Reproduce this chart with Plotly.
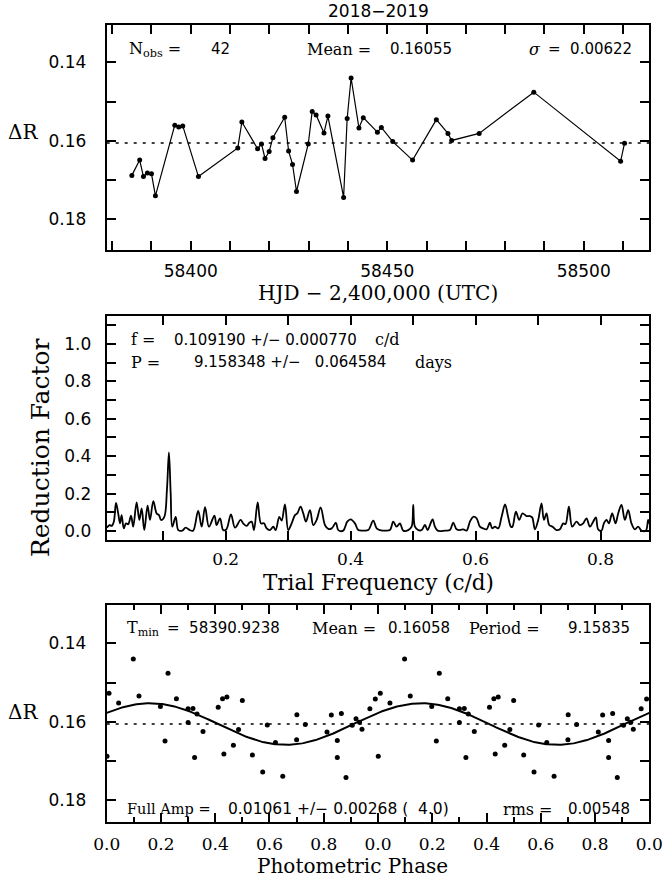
import numpy as np
import plotly.graph_objects as go

W, H = 664, 884

SERIF = "DejaVu Serif"
SANS = "DejaVu Sans"

# ---- top panel: light curve ----
hjd = [58385.0, 58387.0, 58387.95, 58388.96, 58390.0, 58391.0, 58395.93, 58396.94,
       58397.96, 58401.95, 58411.97, 58413.0, 58417.0, 58418.0, 58418.9, 58419.95,
       58420.9, 58423.9, 58424.9, 58425.9, 58426.9, 58429.9, 58430.9, 58431.9,
       58433.9, 58434.9, 58438.9, 58439.8, 58440.8, 58442.8, 58443.9, 58447.5,
       58448.5, 58451.4, 58456.45, 58462.5, 58465.45, 58466.4, 58473.4, 58487.3,
       58509.4, 58510.4]
delta_r = [0.1688, 0.1649, 0.1691, 0.1682, 0.1684, 0.1740, 0.1560, 0.1565,
           0.1562, 0.1691, 0.1618, 0.1552, 0.1620, 0.1608, 0.1645, 0.1627,
           0.1592, 0.1540, 0.1626, 0.1660, 0.1729, 0.1608, 0.1525, 0.1534,
           0.1580, 0.1537, 0.1744, 0.1543, 0.1440, 0.1567, 0.1541, 0.1578,
           0.1566, 0.1602, 0.1649, 0.1546, 0.1581, 0.1599, 0.1581, 0.1476,
           0.1652, 0.1606]
lc_mean = 0.16055

# ---- middle panel: periodogram ----
freq = [0.0100, 0.0112, 0.0143, 0.0175, 0.0210, 0.0245, 0.0280, 0.0310, 0.0335, 0.0370,
        0.0405, 0.0440, 0.0485, 0.0520, 0.0575, 0.0618, 0.0655, 0.0698, 0.0750, 0.0789,
        0.0842, 0.0895, 0.0933, 0.0965, 0.1018, 0.1060, 0.1092, 0.1120, 0.1146, 0.1200,
        0.1242, 0.1306, 0.1360, 0.1430, 0.1480, 0.1560, 0.1616, 0.1670, 0.1733, 0.1820,
        0.1855, 0.1910, 0.1960, 0.2010, 0.2085, 0.2150, 0.2240, 0.2280, 0.2336, 0.2378,
        0.2416, 0.2453, 0.2512, 0.2565, 0.2613, 0.2656, 0.2709, 0.2762, 0.2800, 0.2858,
        0.2896, 0.2949, 0.3002, 0.3056, 0.3109, 0.3146, 0.3199, 0.3242, 0.3285, 0.3349,
        0.3402, 0.3456, 0.3520, 0.3589, 0.3642, 0.3696, 0.3765, 0.3802, 0.3882, 0.3946,
        0.4000, 0.4069, 0.4122, 0.4202, 0.4282, 0.4362, 0.4416, 0.4469, 0.4549, 0.4629,
        0.4682, 0.4736, 0.4789, 0.4842, 0.4922, 0.4976, 0.5002, 0.5029, 0.5082, 0.5136,
        0.5189, 0.5232, 0.5269, 0.5312, 0.5349, 0.5392, 0.5509, 0.5589, 0.5642, 0.5696,
        0.5749, 0.5802, 0.5856, 0.5909, 0.5962, 0.6016, 0.6069, 0.6122, 0.6176, 0.6229,
        0.6266, 0.6309, 0.6362, 0.6416, 0.6472, 0.6522, 0.6565, 0.6590, 0.6645, 0.6698,
        0.6751, 0.6815, 0.6869, 0.6906, 0.6949, 0.7002, 0.7055, 0.7093, 0.7135, 0.7178,
        0.7231, 0.7295, 0.7349, 0.7402, 0.7439, 0.7493, 0.7546, 0.7615, 0.7669, 0.7722,
        0.7775, 0.7829, 0.7882, 0.7925, 0.7962, 0.8015, 0.8053, 0.8095, 0.8133, 0.8186,
        0.8239, 0.8282, 0.8335, 0.8389, 0.8442, 0.8495, 0.8549, 0.8602, 0.8655, 0.8725,
        0.8762, 0.8780]
reduction = [0.018, 0.023, 0.032, 0.027, 0.050, 0.150, 0.094, 0.041, 0.085, 0.014,
             0.041, 0.036, 0.082, 0.023, 0.153, 0.059, 0.121, 0.005, 0.135, 0.059,
             0.160, 0.094, 0.085, 0.059, 0.076, 0.220, 0.420, 0.200, 0.023, 0.076,
             0.005, 0.002, 0.018, 0.004, 0.002, 0.107, 0.023, 0.128, 0.023, 0.082,
             0.032, 0.068, 0.005, 0.008, 0.089, 0.018, 0.059, 0.041, 0.027, 0.044,
             0.050, 0.005, 0.153, 0.041, 0.041, 0.014, 0.005, 0.023, 0.005, 0.076,
             0.055, 0.142, 0.005, 0.041, 0.085, 0.094, 0.130, 0.094, 0.050, 0.112,
             0.032, 0.059, 0.126, 0.032, 0.011, 0.014, 0.044, 0.005, 0.002, 0.050,
             0.062, 0.041, 0.005, 0.002, 0.005, 0.055, 0.014, 0.005, 0.002, 0.005,
             0.050, 0.023, 0.041, 0.002, 0.005, 0.023, 0.139, 0.023, 0.005, 0.005,
             0.032, 0.005, 0.032, 0.062, 0.023, 0.002, 0.002, 0.005, 0.044, 0.009,
             0.005, 0.009, 0.002, 0.050, 0.076, 0.068, 0.023, 0.014, 0.009, 0.044,
             0.014, 0.023, 0.014, 0.076, 0.142, 0.073, 0.023, 0.023, 0.103, 0.059,
             0.094, 0.080, 0.080, 0.073, 0.009, 0.059, 0.148, 0.059, 0.094, 0.032,
             0.023, 0.005, 0.009, 0.041, 0.037, 0.130, 0.023, 0.050, 0.032, 0.041,
             0.068, 0.023, 0.050, 0.073, 0.009, 0.002, 0.041, 0.059, 0.041, 0.094,
             0.041, 0.094, 0.139, 0.059, 0.112, 0.041, 0.009, 0.023, 0.002, 0.002,
             0.059, 0.040]

# ---- bottom panel: phased light curve ----
phase = [0.001, 0.0085, 0.044, 0.098, 0.119, 0.198, 0.215, 0.226, 0.257, 0.300,
         0.318, 0.300, 0.324, 0.333, 0.355, 0.411, 0.427, 0.443, 0.432, 0.467,
         0.486, 0.500, 0.537, 0.575, 0.592, 0.622, 0.649, 0.700, 0.701, 0.732,
         0.812, 0.828, 0.850, 0.850, 0.865, 0.882, 0.905, 0.919, 0.932, 0.941,
         0.970, 0.990]
phased_r = [0.1688, 0.1527, 0.1552, 0.1440, 0.1534, 0.1561, 0.1649, 0.1476, 0.1541, 0.1567,
            0.1566, 0.1602, 0.1691, 0.1580, 0.1625, 0.1563, 0.1541, 0.1537, 0.1682, 0.1660,
            0.1620, 0.1546, 0.1685, 0.1728, 0.1608, 0.1653, 0.1739, 0.1646, 0.1582, 0.1607,
            0.1626, 0.1583, 0.1648, 0.1691, 0.1579, 0.1742, 0.1609, 0.1592, 0.1601, 0.1619,
            0.1567, 0.1542]
fit_mean = 0.16058
fit_full_amp = 0.01061
fit_phase_of_max = 0.66   # phase where delta R is largest
phase_tick_vals = [0.0, 0.2, 0.4, 0.6, 0.8, 1.0, 1.2, 1.4, 1.6, 1.8, 2.0]
phase_tick_text = ["0.0", "0.2", "0.4", "0.6", "0.8", "0.0", "0.2", "0.4", "0.6", "0.8", "0.0"]


def px(x):
    return x / W


def py(y):
    return 1 - y / H


fig = go.Figure()

# light curve
fig.add_trace(go.Scatter(x=hjd, y=delta_r, mode="lines+markers",
                         line=dict(color="black", width=1.2),
                         marker=dict(color="black", size=5),
                         xaxis="x", yaxis="y"))

# periodogram
fig.add_trace(go.Scatter(x=freq, y=reduction, mode="lines",
                         line=dict(color="black", width=1.8, shape="spline", smoothing=1.0),
                         xaxis="x2", yaxis="y2"))

# phased curve, shown over two cycles
ph2 = phase + [p + 1 for p in phase]
r2 = phased_r + phased_r
fig.add_trace(go.Scatter(x=ph2, y=r2, mode="markers",
                         marker=dict(color="black", size=5),
                         xaxis="x3", yaxis="y3"))
ph_fit = np.linspace(0, 2, 401)
r_fit = fit_mean + fit_full_amp / 2 * np.cos(2 * np.pi * (ph_fit - fit_phase_of_max))
fig.add_trace(go.Scatter(x=ph_fit, y=r_fit, mode="lines",
                         line=dict(color="black", width=2),
                         xaxis="x3", yaxis="y3"))

# dotted mean levels
for xa, ya, level in [("x", "y", lc_mean), ("x3", "y3", fit_mean)]:
    fig.add_shape(type="line", xref=xa + " domain", yref=ya, x0=0, x1=1,
                  y0=level, y1=level, line=dict(color="black", width=1.4, dash="3px,6px"))

frame = dict(showline=True, linecolor="black", linewidth=2, mirror="allticks",
             ticks="inside", ticklen=9, tickwidth=1.5, tickcolor="black",
             showgrid=False, zeroline=False, automargin=False)
minor = dict(ticks="inside", ticklen=9, tickwidth=1.5, tickcolor="black")
xdom = [px(106.7), px(649.3)]
tick_sans = dict(family=SANS, size=17)
tick_serif = dict(family=SERIF, size=17)

fig.update_layout(
    width=W, height=H, margin=dict(l=0, r=0, t=0, b=0),
    paper_bgcolor="white", plot_bgcolor="white", showlegend=False,
    font=dict(family=SANS, color="black", size=15),
    xaxis=dict(frame, domain=xdom, anchor="y", range=[58378.6, 58516.7],
               dtick=50, tick0=58400, tickformat="d", ticklabelstandoff=5,
               minor=dict(minor, dtick=10), tickfont=tick_sans),
    yaxis=dict(frame, domain=[py(250), py(25)], anchor="x", range=[0.1878, 0.1305],
               dtick=0.02, tick0=0.14, tickformat=".2f", ticklabelstandoff=15,
               minor=dict(minor, dtick=0.01), tickfont=tick_sans),
    xaxis2=dict(frame, domain=xdom, anchor="y2", range=[0.0096, 0.878],
                dtick=0.2, tick0=0, tickformat=".1f", ticklabelstandoff=3,
                minor=dict(minor, dtick=0.1), tickfont=tick_serif),
    yaxis2=dict(frame, domain=[py(540), py(315.7)], anchor="x2", range=[-0.048, 1.15],
                dtick=0.2, tick0=0, tickformat=".1f", ticklabelstandoff=10,
                minor=dict(minor, dtick=0.1), tickfont=tick_sans),
    xaxis3=dict(frame, domain=xdom, anchor="y3", range=[0, 2],
                tickvals=phase_tick_vals, ticktext=phase_tick_text, ticklabelstandoff=6,
                minor=dict(minor, dtick=0.1, ticklen=5), tickfont=tick_serif),
    yaxis3=dict(frame, domain=[py(821.7), py(605)], anchor="x3", range=[0.1855, 0.1302],
                dtick=0.02, tick0=0.14, tickformat=".2f", ticklabelstandoff=15,
                minor=dict(minor, dtick=0.01), tickfont=tick_sans),
)


def label(x, y, text, family=SANS, size=15, anchor="left", angle=0):
    fig.add_annotation(x=px(x), y=py(y), xref="paper", yref="paper", text=text,
                       showarrow=False, xanchor=anchor, yanchor="middle", textangle=angle,
                       font=dict(family=family, size=size, color="black"))


label(378, 11, "2018−2019", SANS, 17, "center")

# axis titles
label(6, 132, "ΔR", SERIF, 20)
label(6, 712, "ΔR", SERIF, 20)
label(378, 293, "HJD − 2,400,000 (UTC)", SERIF, 20, "center")
label(378, 582, "Trial Frequency (c/d)", SERIF, 21.5, "center")
label(40, 448, "Reduction Factor", SERIF, 25, "center", -90)
label(352, 866, "Photometric Phase", SERIF, 20, "center")

# top panel statistics
label(127, 49, "N<sub>obs</sub> =", SERIF, 16)
label(232, 49, "42", SANS, 15, "right")
label(305, 49, "Mean =", SERIF, 16)
label(388, 49, "0.16055", SANS, 15)
label(527, 49, "<i>σ</i>", SERIF, 16)
label(546, 49, "=  0.00622", SANS, 15)

# periodogram result
label(129, 340, "f =", SERIF, 16)
label(172, 340, "0.109190 +/− 0.000770", SANS, 15)
label(373, 340, "c/d", SERIF, 16)
label(129, 362, "P =", SERIF, 16)
label(192, 362, "9.158348 +/−   0.064584", SANS, 15)
label(413, 362, "days", SERIF, 16)

# phase diagram statistics
label(125, 628, "T<sub>min</sub>", SERIF, 16)
label(165, 628, "=  58390.9238", SANS, 15)
label(310, 628, "Mean =", SERIF, 16)
label(386, 628, "0.16058", SANS, 15)
label(467, 628, "Period =", SERIF, 16)
label(632, 628, "9.15835", SANS, 15, "right")
label(125, 809, "Full Amp =", SERIF, 14.5)
label(226, 809, "0.01061 +/− 0.00268 (  4.0)", SANS, 15.5)
label(501, 809, "rms =", SERIF, 16)
label(632, 809, "0.00548", SANS, 15, "right")

# the page body has a default margin; drop it so the figure fills the window
fig.write_html("out.html", config={"displayModeBar": False},
               post_script="document.body.style.margin = '0';")
